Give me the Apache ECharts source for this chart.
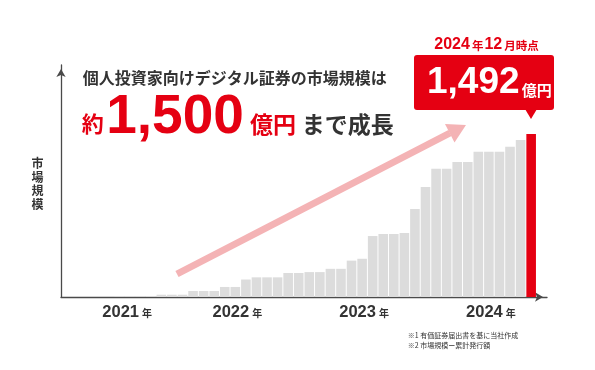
<!DOCTYPE html>
<html>
<head>
<meta charset="utf-8">
<script src="https://cdn.jsdelivr.net/npm/echarts@6/dist/echarts.min.js"></script>
<style>
html,body{margin:0;padding:0;background:#fff;}
#chart{width:595px;height:370px;}
</style>
</head>
<body>
<div id="chart"></div>
<script>
// ---- data ----
var months = [
  '2021-04','2021-05','2021-06','2021-07','2021-08','2021-09','2021-10','2021-11','2021-12',
  '2022-01','2022-02','2022-03','2022-04','2022-05','2022-06','2022-07','2022-08','2022-09','2022-10','2022-11','2022-12',
  '2023-01','2023-02','2023-03','2023-04','2023-05','2023-06','2023-07','2023-08','2023-09','2023-10','2023-11','2023-12',
  '2024-01','2024-02','2024-03','2024-04','2024-05','2024-06','2024-07','2024-08','2024-09','2024-10','2024-11','2024-12',
  '2025-01'
];
// 市場規模 (億円, 累計発行額)
var marketSize = [
  0, 0, 0, 0, 0, 3, 3, 3, 6,
  21, 21, 21, 55, 55, 55, 92, 92, 160, 180, 180, 180,
  220, 220, 228, 228, 258, 258, 333, 350, 558, 577, 577, 586,
  805, 1007, 1175, 1175, 1236, 1236, 1330, 1330, 1330, 1376, 1437, 1492,
  null
];
var highlightMonth = '2024-12';
var yearLabelMonths = ['2021-10', '2022-08', '2023-08', '2024-08'];
var yearLabels = ['2021', '2022', '2023', '2024'];
var yearSuffix = '年';
var headline1 = '個人投資家向けデジタル証券の市場規模は';
var headlinePrefix = '約';
var headlineNumber = '1,500';
var headlineUnit = '億円';
var headlineTail = 'まで成長';
var calloutDate = ['2024', '年', '12', '月時点'];
var calloutValue = '1,492';
var calloutUnit = '億円';
var yAxisName = '市場規模';
var notes = ['※1 有価証券届出書を基に当社作成', '※2 市場規模ー累計発行額'];

// ---- chart ----
var RED = '#e50012';
var GRAY = '#dcdcdc';
var DARK = '#333333';
var JP = '"Noto Sans CJK JP", sans-serif';
var NUM = '"Liberation Sans", Arial, sans-serif';

var chart = echarts.init(document.getElementById('chart'), null, {renderer: 'canvas'});

var barData = marketSize.map(function (v, i) {
  return {
    value: v,
    itemStyle: {color: months[i] === highlightMonth ? RED : GRAY}
  };
});

var option = {
  animation: false,
  backgroundColor: '#ffffff',
  grid: {left: 61, right: 48, top: 65, bottom: 73, containLabel: false},
  xAxis: {
    type: 'category',
    data: months,
    boundaryGap: true,
    axisLine: {
      show: true,
      symbol: ['none', 'arrow'],
      symbolSize: [7, 8],
      symbolOffset: [0, -4],
      lineStyle: {color: '#4a4a4a', width: 1.3}
    },
    axisTick: {show: false},
    axisLabel: {
      interval: 0,
      margin: 7,
      formatter: function (v) {
        var k = yearLabelMonths.indexOf(v);
        if (k < 0) return '';
        if (k === 0) return '{yl|' + yearLabels[k] + '}{nl|' + yearSuffix + '}';
        return '{y|' + yearLabels[k] + '}{n|' + yearSuffix + '}';
      },
      rich: {
        y: {fontSize: 16.5, fontWeight: 'bold', fontFamily: NUM, color: DARK, lineHeight: 16, padding: [0, 0, 0, 4]},
        n: {fontSize: 10, fontWeight: 'bold', fontFamily: JP, color: DARK, lineHeight: 16, padding: [2, 0, 0, 3]},
        yl: {fontSize: 16.5, fontWeight: 'bold', fontFamily: NUM, color: DARK, lineHeight: 16},
        nl: {fontSize: 10, fontWeight: 'bold', fontFamily: JP, color: DARK, lineHeight: 16, padding: [2, 5, 0, 3]}
      }
    },
    splitLine: {show: false}
  },
  yAxis: {
    type: 'value',
    min: 0,
    max: 2124,
    axisLine: {
      show: true,
      symbol: ['none', 'arrow'],
      symbolSize: [7, 8],
      symbolOffset: [0, -4],
      lineStyle: {color: '#4a4a4a', width: 1.3}
    },
    axisTick: {show: false},
    axisLabel: {show: false},
    splitLine: {show: false}
  },
  series: [{
    type: 'bar',
    data: barData,
    barWidth: 9.6,
    z: 3
  }],
  graphic: [
    // growth arrow (decoration)
    {type: 'line', z: 1, shape: {x1: 177, y1: 274, x2: 450, y2: 133},
     style: {stroke: '#f4b3b5', lineWidth: 7}},
    {type: 'polygon', z: 1, shape: {points: [[466, 125], [454.5, 142.5], [445, 124]]},
     style: {fill: '#f4b3b5'}},
    // headline
    {type: 'text', x: 82.7, y: 78.3, z: 5,
     style: {text: headline1, font: 'bold 16px ' + JP, fill: DARK, textAlign: 'left', textVerticalAlign: 'middle'}},
    {type: 'text', x: 81.7, y: 124, z: 5,
     style: {text: headlinePrefix, font: 'bold 22px ' + JP, fill: RED, textAlign: 'left', textVerticalAlign: 'middle'}},
    {type: 'text', x: 175, y: 117.5, z: 5,
     style: {text: headlineNumber, font: 'bold 55px ' + NUM, fill: RED, textAlign: 'center', textVerticalAlign: 'middle'}},
    {type: 'text', x: 250, y: 124.5, z: 5,
     style: {text: headlineUnit, font: 'bold 23px ' + JP, fill: RED, textAlign: 'left', textVerticalAlign: 'middle'}},
    {type: 'text', x: 301.7, y: 124.5, z: 5,
     style: {text: headlineTail, font: 'bold 23px ' + JP, fill: DARK, textAlign: 'left', textVerticalAlign: 'middle'}},
    // callout
    {type: 'rect', z: 4, shape: {x: 414, y: 55, width: 140, height: 55, r: 3}, style: {fill: RED}},
    {type: 'polygon', z: 4, shape: {points: [[525, 109], [537, 109], [531, 119]]}, style: {fill: RED}},
    {type: 'text', x: 487, y: 45, z: 5,
     style: {
       text: '{a|' + calloutDate[0] + '}{b|' + calloutDate[1] + '}{a|' + calloutDate[2] + '}{b|' + calloutDate[3] + '}',
       textAlign: 'center', textVerticalAlign: 'middle',
       rich: {
         a: {fontSize: 16, fontWeight: 'bold', fontFamily: NUM, fill: RED, lineHeight: 16},
         b: {fontSize: 11.5, fontWeight: 'bold', fontFamily: JP, fill: RED, lineHeight: 16, padding: [2, 1, 0, 2]}
       }
     }},
    {type: 'text', x: 473.3, y: 82.5, z: 5,
     style: {text: calloutValue, font: 'bold 37px ' + NUM, fill: '#ffffff', textAlign: 'center', textVerticalAlign: 'middle'}},
    {type: 'text', x: 521.7, y: 90, z: 5,
     style: {text: calloutUnit, font: 'bold 15px ' + JP, fill: '#ffffff', textAlign: 'left', textVerticalAlign: 'middle'}},
    // y axis name (vertical)
    {type: 'text', x: 37.5, y: 184, z: 5,
     style: {text: yAxisName.split('').join('\n'), font: 'bold 12px ' + JP, lineHeight: 13.5, fill: DARK, textAlign: 'center', textVerticalAlign: 'middle'}},
    // notes
    {type: 'text', x: 407.7, y: 335, z: 5,
     style: {text: notes[0], font: '7px ' + JP, fill: DARK, textAlign: 'left', textVerticalAlign: 'middle'}},
    {type: 'text', x: 407.7, y: 345.5, z: 5,
     style: {text: notes[1], font: '7px ' + JP, fill: DARK, textAlign: 'left', textVerticalAlign: 'middle'}}
  ]
};
chart.setOption(option);
</script>
</body>
</html>
